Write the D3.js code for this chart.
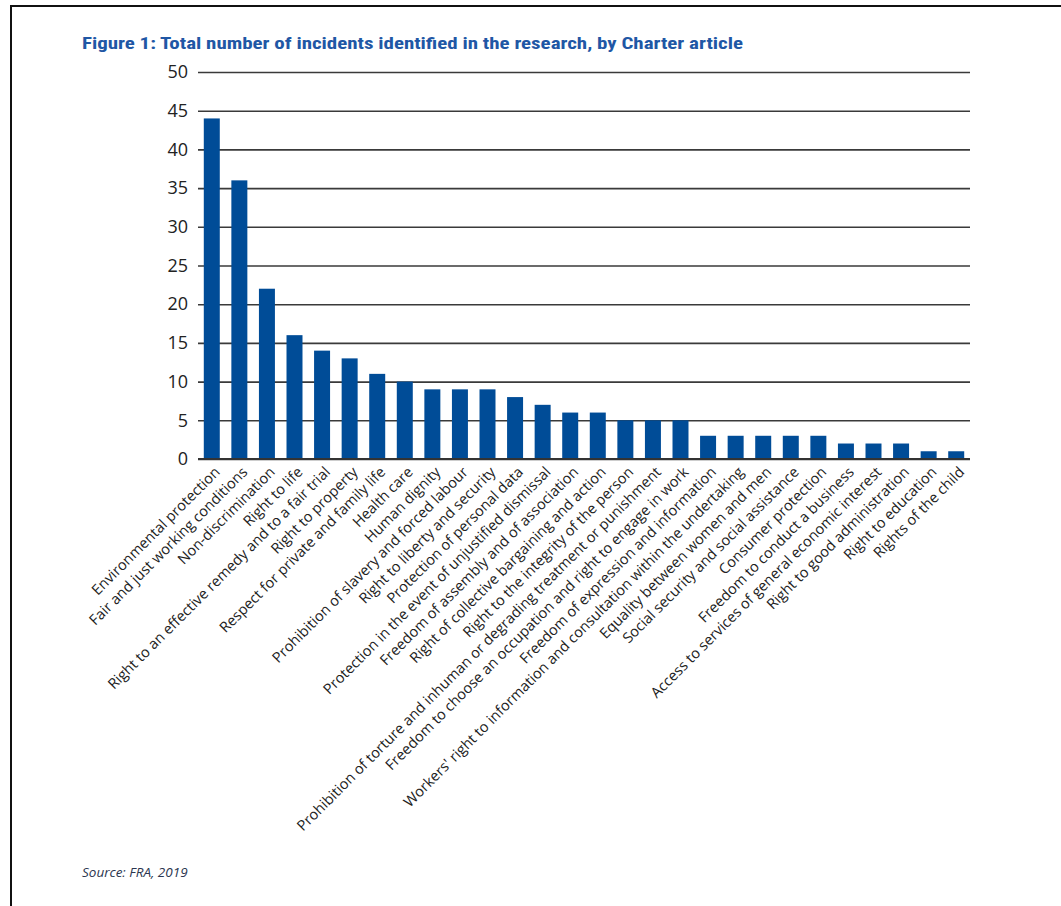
<!DOCTYPE html>
<html>
<head>
<meta charset="utf-8">
<script src="https://cdn.jsdelivr.net/npm/d3@7"></script>
<style>
  body { margin: 0; background: #fff; }
  svg { display: block; }
</style>
</head>
<body>
<svg id="chart" width="1061" height="906"></svg>
<script>
// Charter articles, in the order shown on the chart
const articles = [
  "Environmental protection",
  "Fair and just working conditions",
  "Non-discrimination",
  "Right to life",
  "Right to an effective remedy and to a fair trial",
  "Right to property",
  "Respect for private and family life",
  "Health care",
  "Human dignity",
  "Prohibition of slavery and forced labour",
  "Right to liberty and security",
  "Protection of personal data",
  "Protection in the event of unjustified dismissal",
  "Freedom of assembly and of association",
  "Right of collective bargaining and action",
  "Right to the integrity of the person",
  "Prohibition of torture and inhuman or degrading treatment or punishment",
  "Freedom to choose an occupation and right to engage in work",
  "Freedom of expression and information",
  "Workers' right to information and consultation within the undertaking",
  "Equality between women and men",
  "Social security and social assistance",
  "Consumer protection",
  "Freedom to conduct a business",
  "Access to services of general economic interest",
  "Right to good administration",
  "Right to education",
  "Rights of the child"
];

// number of incidents per article
const incidents = [44, 36, 22, 16, 14, 13, 11, 10, 9, 9, 9, 8, 7, 6, 6, 5, 5, 5, 3, 3, 3, 3, 3, 2, 2, 2, 1, 1];

const yTicks = [0, 5, 10, 15, 20, 25, 30, 35, 40, 45, 50];

const titleText = "Figure 1: Total number of incidents identified in the research, by Charter article";
const sourceText = "Source: FRA, 2019";

const svg = d3.select("#chart");
const margin = { left: 198, right: 91, top: 72, bottom: 447 };
const width = 1061, height = 906;

// page frame (top and left edges visible)
svg.append("line")
  .attr("x1", 10).attr("x2", width).attr("y1", 6).attr("y2", 6)
  .attr("stroke", "#111").attr("stroke-width", 2);
svg.append("line")
  .attr("x1", 11).attr("x2", 11).attr("y1", 6).attr("y2", height)
  .attr("stroke", "#111").attr("stroke-width", 2);

// title
const title = svg.append("text")
  .attr("x", 82).attr("y", 49)
  .attr("font-family", "'Liberation Sans Narrow', 'Roboto Condensed', 'Open Sans', sans-serif")
  .attr("font-weight", "bold")
  .attr("font-size", 16)
  .attr("fill", "#1f57a5")
  .text(titleText);
title.attr("textLength", 661).attr("lengthAdjust", "spacingAndGlyphs");

const x = d3.scaleBand()
  .domain(articles)
  .range([margin.left, width - margin.right])
  .paddingInner(0.42)
  .paddingOuter(0.21);

const y = d3.scaleLinear()
  .domain([0, 50])
  .range([height - margin.bottom, margin.top]);

// gridlines + y labels
const yAxis = d3.axisLeft(y)
  .tickValues(yTicks)
  .tickSize(-(width - margin.right - margin.left))
  .tickPadding(10)
  .tickFormat(d3.format("d"));

const gy = svg.append("g")
  .attr("transform", `translate(${margin.left},0)`)
  .call(yAxis);
gy.select(".domain").remove();
gy.selectAll(".tick line")
  .attr("stroke", "#3a3a3a")
  .attr("stroke-width", 1.6);
gy.selectAll(".tick text")
  .attr("font-family", "'Open Sans', sans-serif")
  .attr("font-size", 18)
  .attr("fill", "#222");

// bars
svg.append("g")
  .selectAll("rect")
  .data(articles)
  .join("rect")
  .attr("x", d => x(d))
  .attr("width", x.bandwidth())
  .attr("y", (d, i) => y(incidents[i]))
  .attr("height", (d, i) => y(0) - y(incidents[i]))
  .attr("fill", "#004c97");

// baseline
svg.append("line")
  .attr("x1", margin.left).attr("x2", width - margin.right)
  .attr("y1", y(0)).attr("y2", y(0))
  .attr("stroke", "#333").attr("stroke-width", 2);

// x labels, rotated
const xAxis = d3.axisBottom(x).tickSize(0).tickPadding(0);
const gx = svg.append("g")
  .attr("transform", `translate(0,${y(0)})`)
  .call(xAxis);
gx.select(".domain").remove();
gx.selectAll(".tick text")
  .attr("font-family", "'Open Sans', sans-serif")
  .attr("font-size", 14.6)
  .attr("fill", "#222")
  .attr("text-anchor", "end")
  .attr("dy", null)
  .attr("transform", "translate(9,14) rotate(-45)");

// source note
svg.append("text")
  .attr("x", 82).attr("y", 877)
  .attr("font-family", "'Open Sans', sans-serif")
  .attr("font-style", "italic")
  .attr("font-size", 13.5)
  .attr("fill", "#2b3650")
  .text(sourceText);
</script>
</body>
</html>
